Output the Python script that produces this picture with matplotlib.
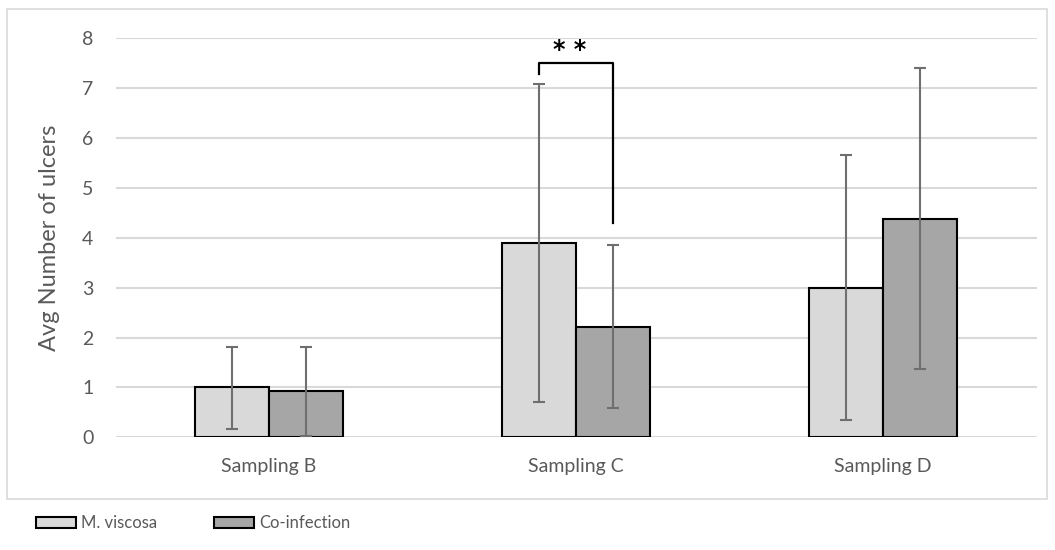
import matplotlib
matplotlib.use("Agg")
import matplotlib.pyplot as plt
import numpy as np
from matplotlib.patches import Rectangle

plt.rcParams["font.family"] = ["Lato", "DejaVu Sans"]

# data
categories = ["Sampling B", "Sampling C", "Sampling D"]
series_names = ["M. viscosa", "Co-infection"]
mv_mean = [1.0, 3.89, 3.0]
mv_lo = [0.17, 0.70, 0.35]
mv_hi = [1.81, 7.09, 5.65]
co_mean = [0.92, 2.21, 4.38]
co_lo = [0.03, 0.59, 1.37]
co_hi = [1.81, 3.85, 7.40]

# significance bracket between the two Sampling C bars
sig_label = "* *"
sig_bracket_y = 7.5
sig_left_bottom = 7.29
sig_right_bottom = 4.3

FILL = {"M. viscosa": "#d9d9d9", "Co-infection": "#a6a6a6"}
TEXT = "#595959"
GRID = "#d9d9d9"
ERR = "#6f6f6f"

fig = plt.figure(figsize=(10.55, 5.5), dpi=100)
ax = fig.add_axes([0.1095, 0.2049, 0.873, 0.7255])

x = np.arange(len(categories))
width = 0.241

for i, (name, mean, lo, hi) in enumerate(
    [(series_names[0], mv_mean, mv_lo, mv_hi), (series_names[1], co_mean, co_lo, co_hi)]
):
    xs = x + (i - 0.5) * width
    mean = np.array(mean)
    yerr = [mean - np.array(lo), np.array(hi) - mean]
    ax.bar(xs, mean, width, color=FILL[name], edgecolor="black", linewidth=1.5,
           label=name, zorder=3)
    ax.errorbar(xs, mean, yerr=yerr, fmt="none", ecolor=ERR, elinewidth=1.5,
                capsize=4, capthick=1.5, zorder=4)

# bracket + stars
xl = x[1] - 0.5 * width
xr = x[1] + 0.5 * width
ax.plot([xl, xl, xr, xr], [sig_left_bottom, sig_bracket_y, sig_bracket_y, sig_right_bottom],
        color="black", linewidth=1.6, zorder=5, clip_on=False)
ax.text(x[1] - 0.02, sig_bracket_y + 0.27, sig_label, ha="center", va="center",
        fontsize=17, fontweight="bold", family="DejaVu Sans", color="black")

ax.set_xlim(-0.5, 2.5)
ax.set_ylim(0, 8)
ax.set_yticks(np.arange(0, 9, 1))
ax.set_xticks(x)
ax.set_xticklabels(categories)
ax.tick_params(axis="both", length=0, labelsize=14, labelcolor=TEXT)
ax.tick_params(axis="y", pad=16)
ax.tick_params(axis="x", pad=15)
ax.grid(axis="y", color=GRID, linewidth=1.5, zorder=0)
ax.set_axisbelow(True)
for s in ax.spines.values():
    s.set_visible(False)
ax.set_ylabel("Avg Number of ulcers", fontsize=17, color=TEXT, labelpad=16)

# outer chart border
fig.patches.append(Rectangle((7 / 1055, 1 - 499 / 550), 1040 / 1055, 490 / 550,
                             transform=fig.transFigure, fill=False,
                             edgecolor=GRID, linewidth=1.2))

fig.legend(loc="center left", bbox_to_anchor=(28 / 1055, 1 - 523 / 550), ncol=2,
           frameon=False, fontsize=12, labelcolor=TEXT, handlelength=2.4,
           handleheight=0.66, handletextpad=0.3, columnspacing=3.4, borderpad=0)

fig.savefig("out.png", dpi=100)
